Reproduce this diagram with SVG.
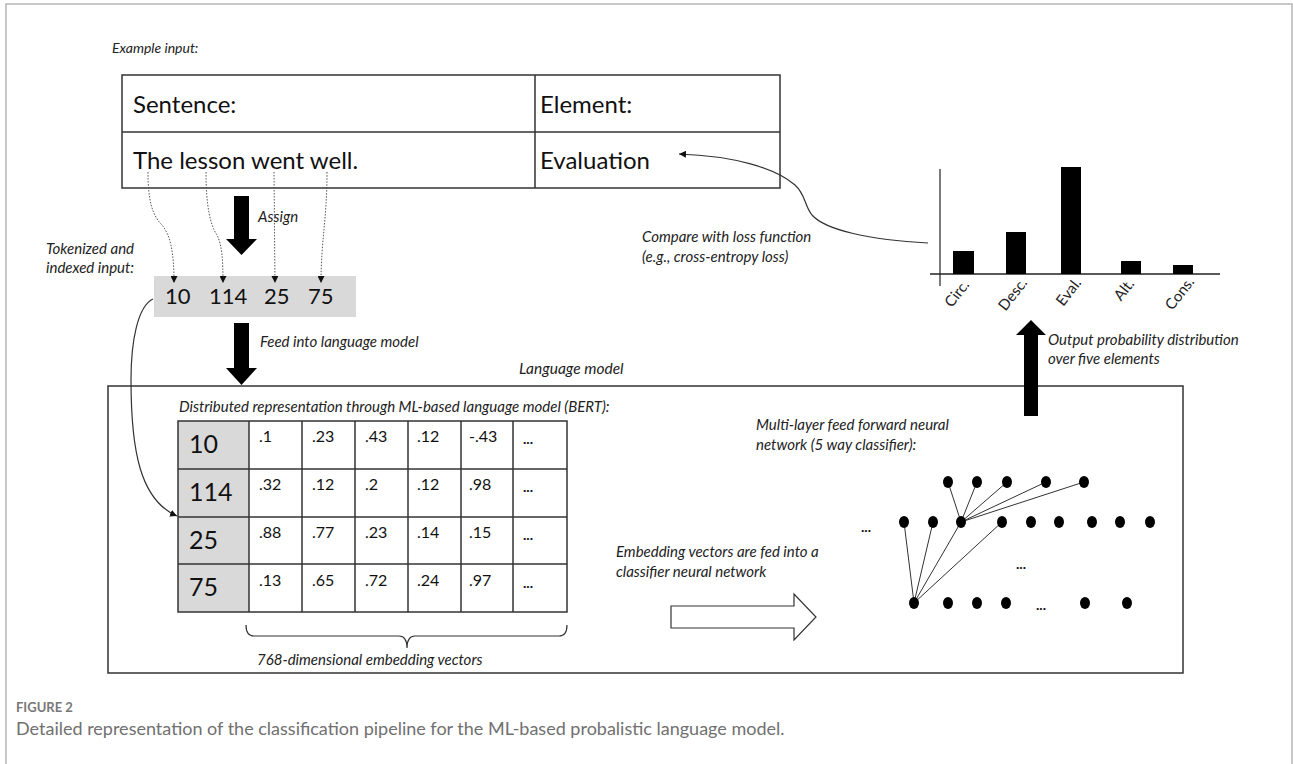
<svg xmlns="http://www.w3.org/2000/svg" width="1293" height="764" viewBox="0 0 1293 764">
<defs>
<style>
.lbl{font-family:Lato,"Liberation Sans",sans-serif;font-style:italic;font-size:15px;fill:#222}
.big{font-family:Lato,"Liberation Sans",sans-serif;font-size:24px;fill:#111}
.num{font-family:Lato,"Liberation Sans",sans-serif;font-size:22px;fill:#111}
.rowh{font-family:Lato,"Liberation Sans",sans-serif;font-size:25px;fill:#111}
.val{font-family:Lato,"Liberation Sans",sans-serif;font-size:16px;fill:#111}
.dots{font-family:Lato,"Liberation Sans",sans-serif;font-size:14px;font-weight:bold;fill:#111}
.axl{font-family:Lato,"Liberation Sans",sans-serif;font-size:15px;fill:#222}
.grid{stroke:#333;stroke-width:1.5;fill:none}
.dotted{stroke:#555;stroke-width:1;stroke-dasharray:1.5 1.5;fill:none}
.curve{stroke:#333;stroke-width:1.2;fill:none}
.thick{fill:#000}
.node{fill:#000}
.edge{stroke:#333;stroke-width:1}
.cap1{font-family:Lato,"Liberation Sans",sans-serif;font-size:13px;font-weight:bold;fill:#777}
.cap2{font-family:Lato,"Liberation Sans",sans-serif;font-size:18px;fill:#707070}
</style>
<marker id="ah" viewBox="0 0 10 10" refX="10" refY="5" markerWidth="7" markerHeight="7" orient="auto" markerUnits="userSpaceOnUse">
<path d="M0,0 L10,5 L0,10 z" fill="#111"/>
</marker>
</defs>
<rect x="0" y="0" width="1293" height="764" fill="#fff"/>
<g id="frame" stroke="#b5b5b5" stroke-width="1.5" fill="none">
<path d="M6,764 L6,4 L1292,4 L1292,764"/>
</g>

<g id="example-input">
<text class="lbl" x="112" y="53" style="font-size:14px">Example input:</text>
<rect class="grid" x="122" y="75" width="658" height="113"/>
<line class="grid" x1="122" y1="132" x2="780" y2="132"/>
<line class="grid" x1="535" y1="75" x2="535" y2="188"/>
<text class="big" x="133" y="113">Sentence:</text>
<text class="big" x="540" y="113">Element:</text>
<text class="big" x="133" y="169">The lesson went well.</text>
<text class="big" x="540" y="169">Evaluation</text>
</g>

<g id="tokenized">
<text class="lbl" x="46" y="254">Tokenized and</text>
<text class="lbl" x="46" y="273">indexed input:</text>
<rect x="154" y="276" width="202" height="41" fill="#d9d9d9"/>
<text class="num" x="165" y="304">10</text>
<text class="num" x="209" y="304">114</text>
<text class="num" x="264" y="304">25</text>
<text class="num" x="308" y="304">75</text>
</g>

<g id="assign-arrow">
<polygon class="thick" points="234,196 249,196 249,239 257,239 241.5,255 226,239 234,239"/>
<text class="lbl" x="258" y="222">Assign</text>
</g>

<g id="feed-arrow">
<polygon class="thick" points="234,323 249,323 249,368 257,368 241.5,385 226,368 234,368"/>
<text class="lbl" x="260" y="347">Feed into language model</text>
</g>

<g id="language-model">
<rect class="grid" x="108" y="386" width="1075" height="287"/>
<text class="lbl" x="519" y="374" style="font-size:15.5px">Language model</text>
<text class="lbl" x="179" y="412">Distributed representation through ML-based language model (BERT):</text>
</g>

<g id="embedding-table">
<rect x="178" y="421" width="71" height="191" fill="#d9d9d9"/>
<rect class="grid" x="178" y="421" width="389" height="191"/>
<g class="grid">
<line x1="178" y1="469" x2="567" y2="469"/>
<line x1="178" y1="517" x2="567" y2="517"/>
<line x1="178" y1="564" x2="567" y2="564"/>
<line x1="249" y1="421" x2="249" y2="612"/>
<line x1="302" y1="421" x2="302" y2="612"/>
<line x1="355" y1="421" x2="355" y2="612"/>
<line x1="408" y1="421" x2="408" y2="612"/>
<line x1="461" y1="421" x2="461" y2="612"/>
<line x1="513" y1="421" x2="513" y2="612"/>
</g>
<text class="rowh" x="189" y="453">10</text>
<text class="rowh" x="189" y="501">114</text>
<text class="rowh" x="189" y="549">25</text>
<text class="rowh" x="189" y="596">75</text>
<g class="val">
<text x="259" y="442">.1</text><text x="312" y="442">.23</text><text x="365" y="442">.43</text><text x="417" y="442">.12</text><text x="469" y="442">-.43</text>
<text x="259" y="490">.32</text><text x="312" y="490">.12</text><text x="365" y="490">.2</text><text x="417" y="490">.12</text><text x="469" y="490">.98</text>
<text x="259" y="538">.88</text><text x="312" y="538">.77</text><text x="365" y="538">.23</text><text x="417" y="538">.14</text><text x="469" y="538">.15</text>
<text x="259" y="586">.13</text><text x="312" y="586">.65</text><text x="365" y="586">.72</text><text x="417" y="586">.24</text><text x="469" y="586">.97</text>
</g>
<g class="dots">
<text x="523" y="444">...</text><text x="523" y="492">...</text><text x="523" y="540">...</text><text x="523" y="588">...</text>
</g>
<path class="curve" d="M246,625 Q246,636 254,636 L399,636 Q407,636 407,648 Q407,636 415,636 L559,636 Q567,636 567,625"/>
<text class="lbl" x="257" y="665">768-dimensional embedding vectors</text>
</g>

<g id="classifier-arrow">
<text class="lbl" x="616" y="557">Embedding vectors are fed into a</text>
<text class="lbl" x="616" y="577">classifier neural network</text>
<polygon points="671,606 794,606 794,594 816,617 794,640 794,628 671,628" fill="#fff" stroke="#333" stroke-width="1.2"/>
</g>

<g id="neural-network">
<text class="lbl" x="756" y="430">Multi-layer feed forward neural</text>
<text class="lbl" x="756" y="450">network (5 way classifier):</text>
<g class="edge">
<line x1="961" y1="522" x2="948" y2="482"/>
<line x1="961" y1="522" x2="977" y2="482"/>
<line x1="961" y1="522" x2="1007" y2="482"/>
<line x1="961" y1="522" x2="1046" y2="482"/>
<line x1="961" y1="522" x2="1084" y2="482"/>
<line x1="914" y1="603" x2="904" y2="522"/>
<line x1="914" y1="603" x2="933" y2="522"/>
<line x1="914" y1="603" x2="961" y2="522"/>
<line x1="914" y1="603" x2="1002" y2="522"/>
</g>
<g class="node">
<ellipse cx="948" cy="482" rx="5" ry="6"/><ellipse cx="977" cy="482" rx="5" ry="6"/><ellipse cx="1007" cy="482" rx="5" ry="6"/><ellipse cx="1046" cy="482" rx="5" ry="6"/><ellipse cx="1084" cy="482" rx="5" ry="6"/>
<ellipse cx="904" cy="522" rx="5" ry="6"/><ellipse cx="933" cy="522" rx="5" ry="6"/><ellipse cx="961" cy="522" rx="5" ry="6"/><ellipse cx="1002" cy="522" rx="5" ry="6"/><ellipse cx="1031" cy="522" rx="5" ry="6"/><ellipse cx="1059" cy="522" rx="5" ry="6"/><ellipse cx="1092" cy="522" rx="5" ry="6"/><ellipse cx="1120" cy="522" rx="5" ry="6"/><ellipse cx="1150" cy="522" rx="5" ry="6"/>
<ellipse cx="914" cy="603" rx="5" ry="6"/><ellipse cx="948" cy="603" rx="5" ry="6"/><ellipse cx="977" cy="603" rx="5" ry="6"/><ellipse cx="1006" cy="603" rx="5" ry="6"/><ellipse cx="1085" cy="603" rx="5" ry="6"/><ellipse cx="1127" cy="603" rx="5" ry="6"/>
</g>
<g class="dots">
<text x="861" y="532">...</text>
<text x="1016" y="569">...</text>
<text x="1036" y="610">...</text>
</g>
</g>

<g id="output-arrow">
<polygon class="thick" points="1024,416 1038,416 1038,335 1046,335 1031,320 1016,335 1024,335"/>
<text class="lbl" x="1048" y="345">Output probability distribution</text>
<text class="lbl" x="1048" y="364">over five elements</text>
</g>

<g id="bar-chart">
<line x1="940" y1="169" x2="940" y2="286" stroke="#222" stroke-width="1.2"/>
<line x1="930" y1="274" x2="1220" y2="274" stroke="#222" stroke-width="1.5"/>
<rect x="953" y="251" width="21" height="23" fill="#000"/>
<rect x="1006" y="232" width="20" height="42" fill="#000"/>
<rect x="1061" y="167" width="20" height="107" fill="#000"/>
<rect x="1121" y="261" width="20" height="13" fill="#000"/>
<rect x="1173" y="265" width="20" height="9" fill="#000"/>
<g class="axl" text-anchor="end">
<text transform="translate(970,285) rotate(-52)">Circ.</text>
<text transform="translate(1028,283) rotate(-52)">Desc.</text>
<text transform="translate(1082,283) rotate(-52)">Eval.</text>
<text transform="translate(1135,284) rotate(-52)">Alt.</text>
<text transform="translate(1195,282) rotate(-52)">Cons.</text>
</g>
<text class="lbl" x="642" y="242">Compare with loss function</text>
<text class="lbl" x="642" y="262">(e.g., cross-entropy loss)</text>
</g>

<g id="connectors">
<path class="dotted" d="M148,172 C148,200 152,215 162,225 C170,235 174,250 174,283" marker-end="url(#ah)"/>
<path class="dotted" d="M206,172 C206,205 210,225 217,235 C222,245 223,260 223,283" marker-end="url(#ah)"/>
<path class="dotted" d="M274,172 L275,283" marker-end="url(#ah)"/>
<path class="dotted" d="M327,172 C327,220 321,240 321,283" marker-end="url(#ah)"/>
<path class="curve" d="M153,299 C138,306 131,340 131,380 C131,450 140,500 177,516" marker-end="url(#ah)"/>
<path class="curve" d="M928,243 C870,240 825,230 812,215 C804,205 806,195 795,185 C775,168 735,156 679,154" marker-end="url(#ah)"/>
</g>

<g id="caption">
<text class="cap1" x="16" y="712">FIGURE 2</text>
<text class="cap2" x="16" y="735">Detailed representation of the classification pipeline for the ML-based probalistic language model.</text>
</g>
</svg>
